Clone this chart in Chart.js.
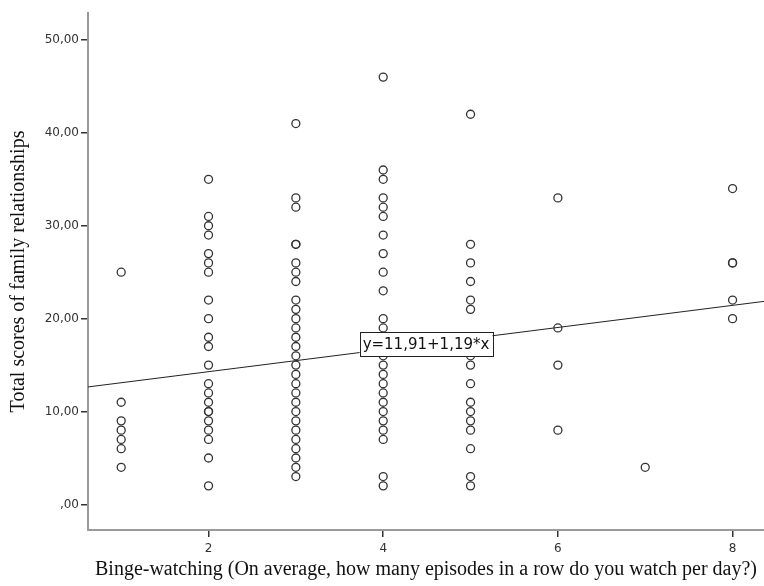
<!DOCTYPE html>
<html>
<head>
<meta charset="utf-8">
<script src="https://cdn.jsdelivr.net/npm/chart.js@4"></script>
<style>
  html, body { margin: 0; padding: 0; background: #fff; }
  #wrap { width: 764px; height: 586px; }
</style>
</head>
<body>
<div id="wrap"><canvas id="chart" width="764" height="586"></canvas></div>
<script>
// axis setup
const X_TICKS = [2, 4, 6, 8];
const Y_TICKS = [0, 10, 20, 30, 40, 50];
const X_RANGE = [0.62, 8.36];
const Y_RANGE = [-2.75, 52.9];

// family relationship scores, grouped by episodes watched in a row
const episodes = [1, 2, 3, 4, 5, 6, 7, 8];
const scoresEp1 = [25, 11, 9, 8, 7, 6, 4];
const scoresEp2 = [35, 31, 30, 29, 27, 26, 25, 22, 20, 18, 17, 15, 13, 12, 11, 10, 10, 9, 8, 7, 5, 2];
const scoresEp3 = [41, 33, 32, 28, 28, 26, 25, 24, 22, 21, 20, 19, 18, 17, 16, 15, 14, 13, 12, 11, 10, 9, 8, 7, 6, 5, 4, 3];
const scoresEp4 = [46, 36, 35, 33, 32, 31, 29, 27, 25, 23, 20, 19, 18, 17, 16, 15, 14, 13, 12, 11, 10, 9, 8, 7, 3, 2];
const scoresEp5 = [42, 28, 26, 24, 22, 21, 16, 15, 13, 11, 10, 9, 8, 6, 3, 2];
const scoresEp6 = [33, 19, 15, 8];
const scoresEp7 = [4];
const scoresEp8 = [34, 26, 26, 22, 20];

// fit line  y = 11,91 + 1,19*x
const FIT_INTERCEPT = 11.91;
const FIT_SLOPE = 1.19;
const FIT_LABEL = 'y=11,91+1,19*x';

const groups = [scoresEp1, scoresEp2, scoresEp3, scoresEp4, scoresEp5, scoresEp6, scoresEp7, scoresEp8];
const points = [];
groups.forEach((arr, i) => arr.forEach(v => points.push({ x: episodes[i], y: v })));

const fitLine = X_RANGE.map(x => ({ x, y: FIT_INTERCEPT + FIT_SLOPE * x }));

const fitLabelPlugin = {
  id: 'fitLabel',
  afterDatasetsDraw(chart) {
    const { ctx, scales } = chart;
    const xv = (X_RANGE[0] + X_RANGE[1]) / 2;
    const px = scales.x.getPixelForValue(xv);
    const py = scales.y.getPixelForValue(FIT_INTERCEPT + FIT_SLOPE * xv);
    ctx.save();
    ctx.font = '15px "DejaVu Sans"';
    const w = ctx.measureText(FIT_LABEL).width + 6;
    const h = 24;
    ctx.fillStyle = '#fff';
    ctx.fillRect(px - w / 2, py - h / 2, w, h);
    ctx.strokeStyle = '#222';
    ctx.lineWidth = 1;
    ctx.strokeRect(Math.round(px - w / 2) + 0.5, Math.round(py - h / 2) + 0.5, Math.round(w), h);
    ctx.fillStyle = '#111';
    ctx.textAlign = 'center';
    ctx.textBaseline = 'middle';
    ctx.fillText(FIT_LABEL, px, py + 1);
    ctx.restore();
  }
};

const axisTitleFont = { family: '"Liberation Serif", "Times New Roman", serif', size: 20 };
const tickFont = { family: '"DejaVu Sans", sans-serif', size: 12 };

new Chart(document.getElementById('chart'), {
  type: 'scatter',
  data: {
    datasets: [
      {
        data: points,
        pointStyle: 'circle',
        pointRadius: 4,
        pointHoverRadius: 4,
        pointBorderWidth: 1.3,
        pointBorderColor: '#333',
        pointBackgroundColor: 'rgba(0,0,0,0)',
      },
      {
        type: 'line',
        data: fitLine,
        borderColor: '#222',
        borderWidth: 1,
        pointRadius: 0,
        fill: false,
      },
    ],
  },
  options: {
    responsive: false,
    animation: false,
    events: [],
    layout: { autoPadding: false, padding: { top: 13, right: 0, left: 0, bottom: 0 } },
    plugins: { legend: { display: false }, tooltip: { enabled: false } },
    scales: {
      x: {
        type: 'linear',
        min: X_RANGE[0],
        max: X_RANGE[1],
        afterBuildTicks: s => { s.ticks = X_TICKS.map(v => ({ value: v })); },
        afterFit: s => { s.height = 56; },
        ticks: { font: tickFont, color: '#333', padding: 5, maxRotation: 0 },
        grid: { drawOnChartArea: false, tickLength: 7, color: '#333', lineWidth: 1.5 },
        border: { color: '#9a9a9a', width: 2 },
        title: { display: true, text: 'Binge-watching (On average, how many episodes in a row do you watch per day?)', font: axisTitleFont, color: '#111', padding: { top: 2, bottom: 4 } },
      },
      y: {
        type: 'linear',
        min: Y_RANGE[0],
        max: Y_RANGE[1],
        afterBuildTicks: s => { s.ticks = Y_TICKS.map(v => ({ value: v })); },
        afterFit: s => { s.width = 88; },
        ticks: {
          font: tickFont, color: '#333', padding: 2,
          callback: v => v === 0 ? ',00' : v.toFixed(2).replace('.', ','),
        },
        grid: { drawOnChartArea: false, tickLength: 7, color: '#333', lineWidth: 1.5 },
        border: { color: '#9a9a9a', width: 2 },
        title: { display: true, text: 'Total scores of family relationships', font: axisTitleFont, color: '#111', padding: { top: 7, bottom: 0 } },
      },
    },
  },
  plugins: [fitLabelPlugin],
});
</script>
</body>
</html>
